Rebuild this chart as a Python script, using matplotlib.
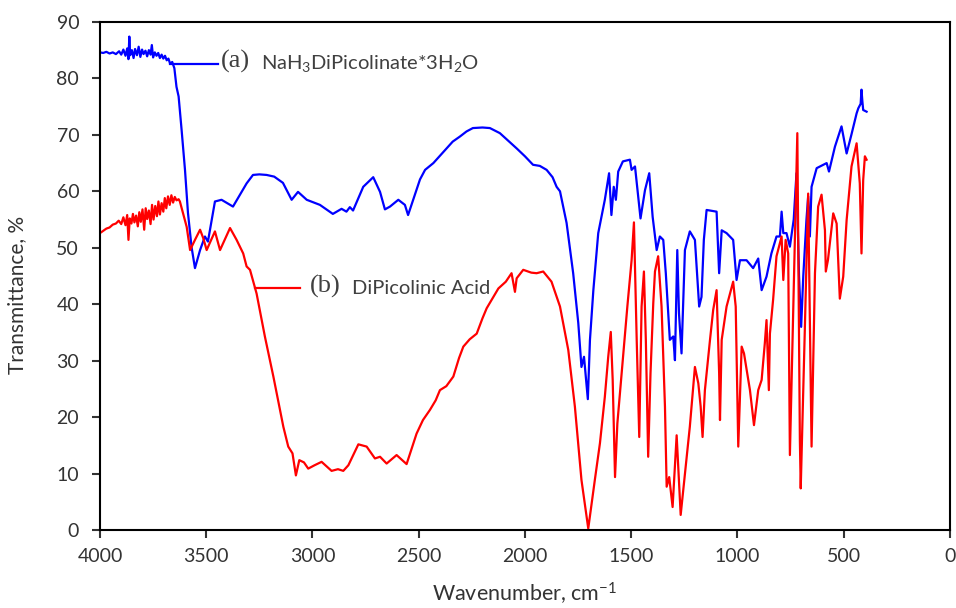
"""FTIR transmittance spectra of NaH3 dipicolinate trihydrate and dipicolinic acid."""
import matplotlib
matplotlib.use("Agg")
import matplotlib.pyplot as plt

# (a) NaH3DiPicolinate*3H2O  -- wavenumber (cm-1) and transmittance (%)
wn_a = [4000, 3985, 3970, 3955, 3940, 3925, 3910, 3900, 3890, 3880, 3872, 3866,
        3862, 3858, 3850, 3842, 3835, 3826, 3818, 3810, 3802, 3795, 3786, 3778,
        3770, 3762, 3756, 3750, 3742, 3734, 3726, 3718, 3710, 3702, 3694, 3686,
        3678, 3670, 3660, 3650, 3640, 3630, 3616, 3600, 3586, 3569, 3553, 3529,
        3506, 3492, 3459, 3428, 3374, 3310, 3280, 3250, 3216, 3180, 3139, 3098,
        3068, 3027, 2965, 2904, 2863, 2840, 2824, 2809, 2761, 2714, 2682, 2659,
        2635, 2596, 2565, 2550, 2494, 2470, 2431, 2400, 2369, 2340, 2306, 2275,
        2245, 2200, 2165, 2118, 2080, 2039, 2000, 1962, 1930, 1898, 1870, 1851,
        1835, 1804, 1773, 1749, 1734, 1722, 1704, 1694, 1678, 1655, 1640, 1624,
        1604, 1593, 1582, 1572, 1561, 1539, 1506, 1498, 1482, 1467, 1456, 1435,
        1415, 1399, 1380, 1365, 1349, 1337, 1318, 1302, 1294, 1283, 1275, 1263,
        1247, 1224, 1200, 1180, 1169, 1158, 1145, 1098, 1086, 1074, 1051, 1020,
        1004, 988, 957, 926, 902, 886, 863, 840, 816, 800, 792, 784, 769, 753,
        735, 722, 710, 700, 690, 675, 667, 659, 651, 627, 580, 569, 541, 510,
        486, 463, 439, 431, 420, 416, 412, 408, 392]
t_a = [84.6, 84.5, 84.7, 84.4, 84.6, 84.3, 84.8, 84.2, 85.1, 84.0, 85.3, 83.4,
       87.4, 84.1, 85.0, 83.6, 85.2, 84.1, 85.6, 83.8, 85.1, 84.3, 84.9, 83.9,
       85.0, 84.2, 85.9, 83.7, 84.6, 84.0, 84.5, 83.6, 84.2, 83.5, 84.0, 83.2,
       83.5, 82.6, 82.9, 81.8, 78.5, 76.8, 70.9, 63.8, 56.2, 50.1, 46.4, 49.6,
       52.0, 51.1, 58.2, 58.5, 57.3, 61.4, 62.9, 63.0, 62.9, 62.6, 61.5, 58.5,
       59.9, 58.5, 57.6, 56.0, 56.9, 56.4, 57.2, 56.6, 60.8, 62.5, 59.9, 56.8,
       57.3, 58.5, 57.6, 55.8, 62.1, 63.8, 65.0, 66.3, 67.6, 68.8, 69.7, 70.6,
       71.2, 71.3, 71.2, 70.3, 69.0, 67.6, 66.2, 64.7, 64.5, 63.8, 62.5, 60.8,
       60.0, 54.4, 45.5, 36.7, 28.9, 30.7, 23.2, 33.7, 42.5, 52.6, 55.5, 58.5,
       63.2, 55.8, 60.8, 58.5, 63.5, 65.3, 65.6, 63.8, 64.4, 59.1, 55.2, 60.2,
       63.2, 55.5, 49.6, 52.0, 51.4, 45.5, 33.7, 34.3, 30.1, 49.6, 38.4, 31.3,
       49.6, 52.9, 51.4, 39.6, 41.3, 51.4, 56.7, 56.4, 45.5, 53.1, 52.6, 51.4,
       44.3, 47.8, 47.8, 46.4, 48.1, 42.5, 44.9, 49.0, 52.0, 52.0, 56.4, 52.6,
       52.6, 50.2, 55.0, 63.2, 45.0, 36.0, 45.0, 55.0, 59.1, 52.0, 60.8, 64.1,
       65.0, 63.5, 67.9, 71.5, 66.7, 70.1, 73.8, 74.7, 75.5, 78.0, 76.0, 74.4,
       74.1]

# (b) DiPicolinic Acid
wn_b = [4000, 3985, 3970, 3955, 3940, 3925, 3912, 3900, 3890, 3880, 3872, 3866,
        3860, 3852, 3845, 3838, 3830, 3822, 3815, 3808, 3800, 3792, 3785, 3778,
        3770, 3762, 3755, 3748, 3740, 3732, 3725, 3718, 3710, 3702, 3695, 3688,
        3680, 3672, 3664, 3656, 3648, 3640, 3630, 3624, 3592, 3576, 3553, 3529,
        3514, 3498, 3459, 3435, 3388, 3357, 3326, 3310, 3294, 3263, 3224, 3184,
        3137, 3114, 3094, 3078, 3062, 3040, 3020, 2990, 2957, 2910, 2880, 2855,
        2831, 2784, 2745, 2706, 2682, 2651, 2604, 2557, 2510, 2480, 2447, 2420,
        2400, 2370, 2337, 2310, 2290, 2260, 2227, 2200, 2180, 2150, 2125, 2090,
        2063, 2047, 2039, 2008, 1970, 1945, 1914, 1875, 1835, 1796, 1765, 1734,
        1702, 1671, 1647, 1624, 1608, 1596, 1587, 1576, 1565, 1545, 1518, 1498,
        1487, 1474, 1462, 1451, 1440, 1431, 1420, 1409, 1396, 1388, 1373, 1357,
        1341, 1333, 1321, 1305, 1286, 1267, 1247, 1224, 1200, 1184, 1173, 1164,
        1153, 1129, 1114, 1098, 1086, 1082, 1074, 1051, 1020, 1008, 996, 980,
        969, 941, 922, 902, 886, 871, 863, 852, 847, 832, 816, 792, 784, 773,
        761, 753, 737, 718, 706, 702, 682, 667, 651, 635, 620, 604, 588, 584,
        574, 549, 533, 518, 502, 486, 463, 439, 424, 416, 408, 400, 392]
t_b = [52.6, 53.0, 53.4, 53.6, 54.1, 54.3, 54.8, 54.2, 55.4, 54.0, 55.8, 51.4,
       55.2, 54.3, 56.0, 54.5, 55.7, 53.8, 56.3, 54.6, 56.8, 53.2, 57.0, 55.1,
       56.6, 54.2, 57.6, 55.0, 57.4, 55.6, 58.2, 55.9, 57.9, 56.4, 58.8, 57.0,
       59.1, 57.6, 59.3, 58.0, 59.0, 58.4, 58.6, 58.2, 53.7, 49.6, 51.4, 53.2,
       51.7, 49.6, 52.9, 49.6, 53.5, 51.4, 49.0, 46.7, 46.1, 41.9, 34.3, 27.2,
       18.3, 14.8, 13.6, 9.7, 12.4, 12.0, 10.9, 11.5, 12.1, 10.5, 10.8, 10.5,
       11.5, 15.2, 14.8, 12.7, 13.0, 11.8, 13.3, 11.7, 17.1, 19.5, 21.3, 23.0,
       24.8, 25.5, 27.2, 30.5, 32.5, 33.8, 34.8, 37.5, 39.3, 41.2, 42.8, 44.0,
       45.5, 42.2, 44.6, 46.1, 45.6, 45.5, 45.8, 44.0, 39.6, 31.9, 21.9, 8.9,
       0.3, 8.9, 15.4, 23.6, 30.7, 35.1, 26.6, 9.4, 18.9, 27.8, 39.6, 47.8,
       54.5, 33.7, 16.5, 39.6, 45.8, 33.7, 13.0, 27.8, 40.2, 45.8, 48.5, 39.6,
       21.9, 7.7, 9.4, 4.1, 16.8, 2.7, 10.0, 18.3, 28.9, 26.0, 21.9, 16.5,
       24.8, 33.7, 39.0, 42.5, 27.8, 19.5, 33.7, 39.6, 44.0, 39.6, 14.8, 32.5,
       31.3, 24.8, 18.6, 24.8, 26.6, 33.1, 37.2, 24.8, 34.8, 40.8, 48.5, 52.0,
       44.3, 51.4, 49.0, 13.3, 39.6, 70.3, 15.9, 7.4, 36.6, 59.6, 14.8, 45.5,
       57.3, 59.4, 53.1, 45.8, 47.8, 56.1, 54.3, 41.0, 44.9, 54.9, 64.4, 68.5,
       61.4, 49.0, 62.0, 66.2, 65.6]

x_ticks = [4000, 3500, 3000, 2500, 2000, 1500, 1000, 500, 0]
y_ticks = [0, 10, 20, 30, 40, 50, 60, 70, 80, 90]

plt.rcParams["font.family"] = ["Lato", "DejaVu Sans"]
plt.rcParams["mathtext.fontset"] = "custom"
plt.rcParams["mathtext.rm"] = "Lato"
plt.rcParams["mathtext.it"] = "Lato"

fig = plt.figure(figsize=(9.56, 6.08), dpi=100)
ax = fig.add_axes([0.1046, 0.128, 0.889, 0.836])

ax.plot(wn_a, t_a, color="#0000ff", lw=1.6)
ax.plot(wn_b, t_b, color="#ff0000", lw=1.6)

# label leaders and text
ax.plot([3671, 3445], [82.6, 82.6], color="#0000ff", lw=1.6)
ax.text(3430, 83.0, "(a)", family="Liberation Serif", fontsize=19,
        color="#404040", va="center", ha="left")
ax.text(3240, 82.6, r"NaH$_3$DiPicolinate*3H$_2$O", fontsize=14.5,
        color="#404040", va="center", ha="left")
ax.plot([3271, 3059], [42.9, 42.9], color="#ff0000", lw=1.6)
ax.text(3014, 43.2, "(b)", family="Liberation Serif", fontsize=19,
        color="#404040", va="center", ha="left")
ax.text(2815, 42.8, "DiPicolinic Acid", fontsize=14.5,
        color="#404040", va="center", ha="left")

ax.set_xlim(4000, 0)
ax.set_ylim(0, 90)
ax.set_xticks(x_ticks)
ax.set_yticks(y_ticks)
ax.tick_params(direction="out", length=6, width=1.5, labelsize=14,
               colors="#333333")
ax.tick_params(axis="x", pad=7)
ax.tick_params(axis="y", pad=9)
for s in ax.spines.values():
    s.set_linewidth(1.5)
    s.set_color("black")

ax.set_xlabel(r"Wavenumber, cm$^{-1}$", fontsize=15.5, color="#333333", labelpad=11)
ax.set_ylabel("Transmittance, %", fontsize=15, color="#333333")
ax.yaxis.set_label_coords(-0.086, 0.463)

fig.savefig("out.png", dpi=100)
